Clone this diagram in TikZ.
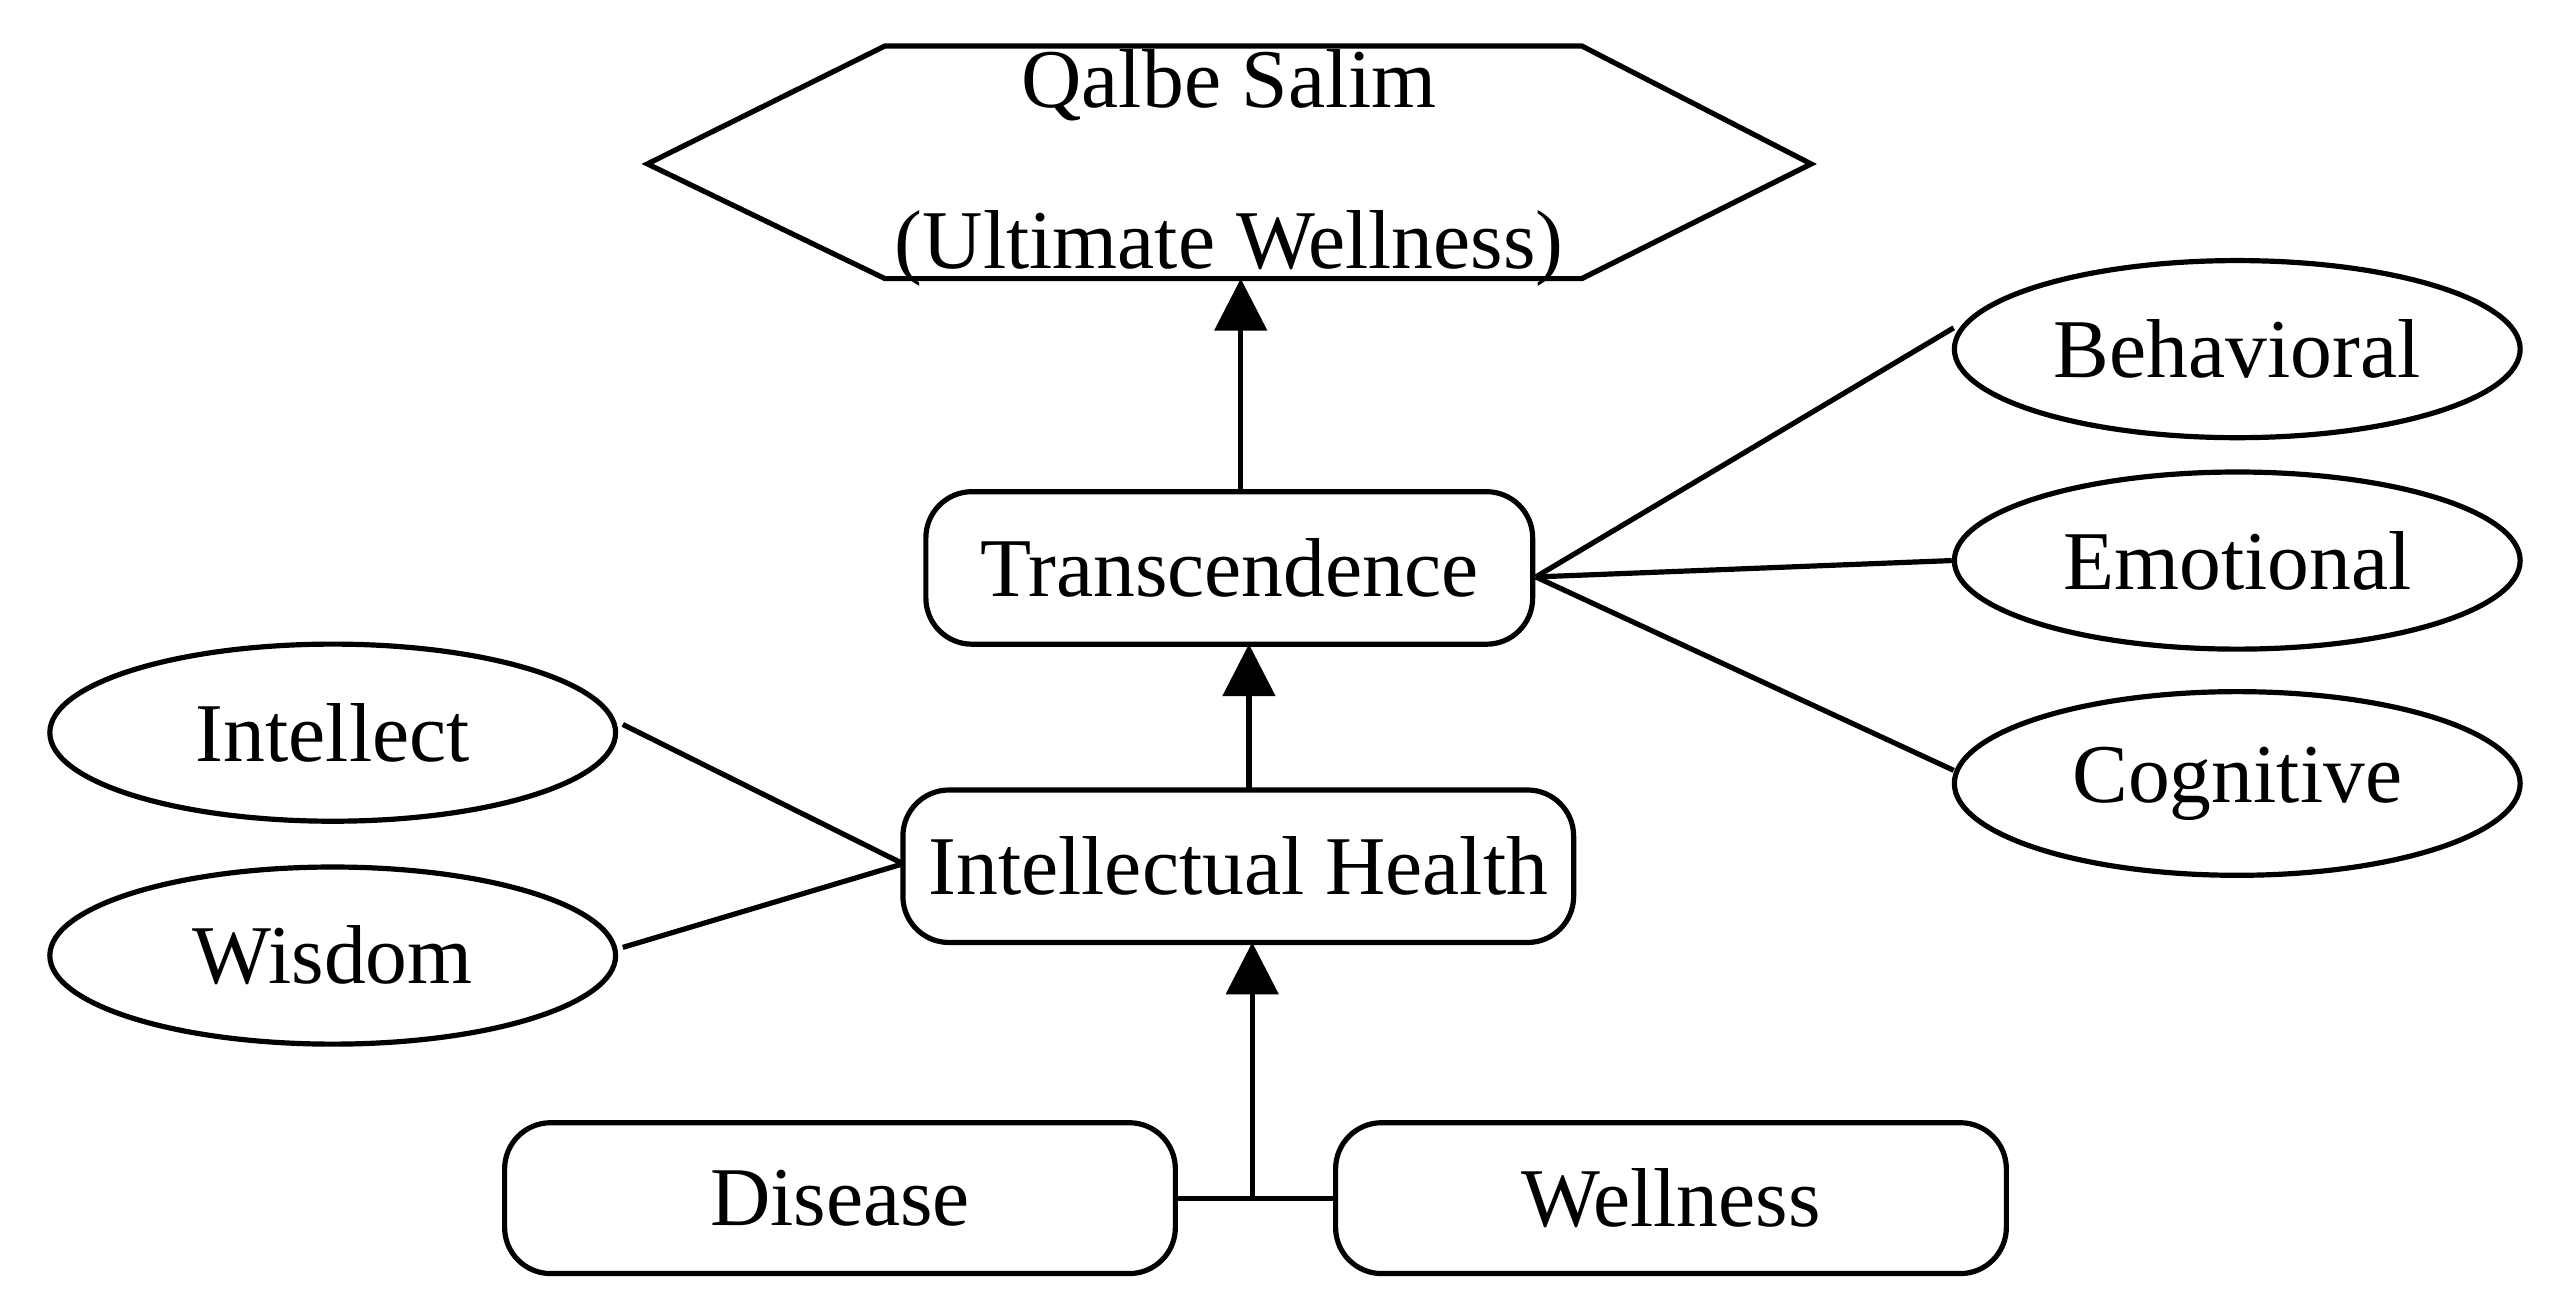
\documentclass[tikz,border=0pt]{standalone}
\usepackage{fontspec}
\setmainfont{Liberation Serif}
\usetikzlibrary{arrows.meta,shapes.geometric}
\begin{document}
\begin{tikzpicture}[x=0.01cm,y=-0.01cm,line width=0.9pt,
  box/.style={draw,rounded corners=8pt,inner sep=0pt},
  ell/.style={draw,ellipse,minimum width=3.45cm,minimum height=1.08cm,inner sep=0pt},
  lbl/.style={font=\fontsize{14.5}{18}\selectfont},
  arr/.style={-{Triangle[length=9pt,width=9pt]}}]
\useasboundingbox (0,0) rectangle (1568,799);
\draw (395,100) -- (540,28) -- (965,28) -- (1105,100) -- (965,170) -- (540,170) -- cycle;
\node[lbl] (hex) at (750,102) {\begin{tabular}{c}Qalbe Salim\\[10pt](Ultimate Wellness)\end{tabular}};
\coordinate (hexb) at (757,170);
\node[box,lbl,minimum width=3.70cm,minimum height=0.93cm] (tr) at (750,346.5) {Transcendence};
\node[box,lbl,minimum width=4.09cm,minimum height=0.93cm] (ih) at (755.5,528.5) {Intellectual Health};
\node[box,lbl,minimum width=4.09cm,minimum height=0.92cm] (dis) at (512.5,731) {Disease};
\node[box,lbl,minimum width=4.09cm,minimum height=0.92cm] (wel) at (1019.5,731) {Wellness};
\node[ell,lbl] (beh) at (1365,213) {Behavioral};
\node[ell,lbl] (emo) at (1365,342) {Emotional};
\node[ell,lbl,minimum height=1.12cm] (cog) at (1365,478) {Cognitive};
\node[ell,lbl] (int) at (203,447) {Intellect};
\node[ell,lbl] (wis) at (203,583) {Wisdom};
\draw[arr] (tr.north -| hexb) -- (hexb);
\draw[arr] (762,482) -- (762,393);
\coordinate (j) at (764,731);
\draw (dis.east) -- (wel.west);
\draw[arr] (j) -- (764,575);
\coordinate (trr) at (937,352);
\draw (trr) -- (1192,200);
\draw (trr) -- (emo.west);
\draw (trr) -- (1192,470);
\coordinate (ihl) at (551,527);
\draw (ihl) -- (380,442);
\draw (ihl) -- (380,578);
\end{tikzpicture}
\end{document}
